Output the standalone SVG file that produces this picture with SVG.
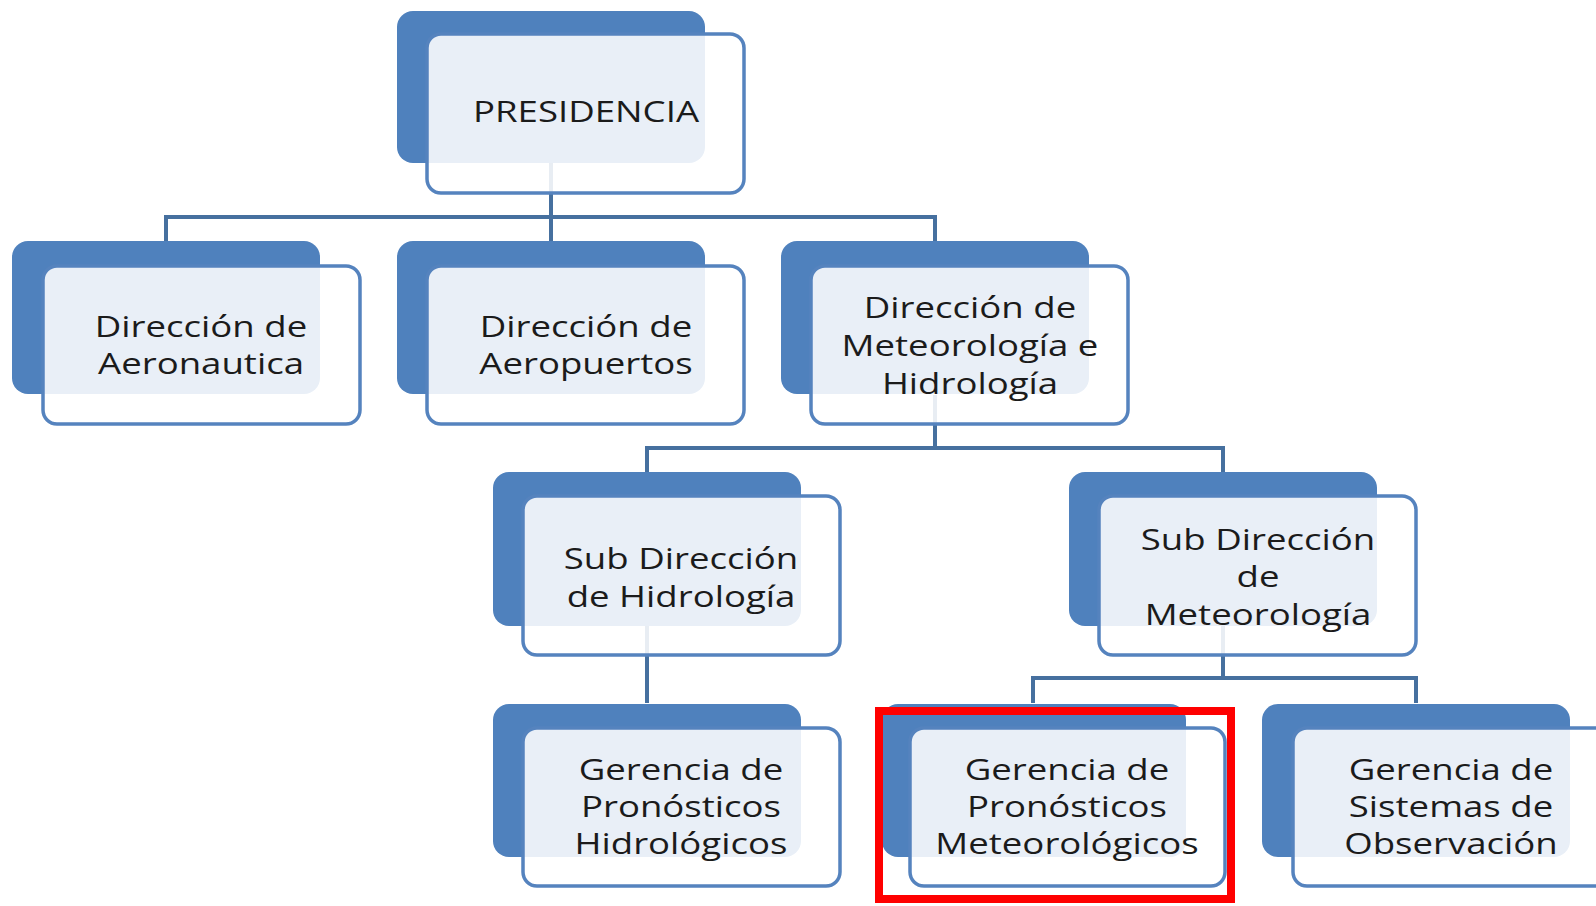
<svg xmlns="http://www.w3.org/2000/svg" width="1596" height="906" viewBox="0 0 1596 906">
<style>
.back{fill:#4F81BD;}
.front{fill:#FFFFFF;fill-opacity:0.875;stroke:#5583BE;stroke-width:3.5;}
.conn{fill:none;stroke:#46709F;stroke-width:4;}
.lbl{font-family:"Open Sans","Liberation Sans",sans-serif;font-size:30px;fill:#1b1b1b;text-anchor:middle;}
.hl{fill:none;stroke:#FF0000;stroke-width:8;}
</style>
<rect width="1596" height="906" fill="#FFFFFF"/>
<g id="connectors">
<path class="conn" d="M551 163 V217 M166 217 H935 M166 215 V241 M551 217 V241 M935 215 V241"/>
<path class="conn" d="M935 395 V448 M647 448 H1223 M647 446 V472 M1223 446 V472"/>
<path class="conn" d="M647 626 V703 M1223 626 V678 M1033 678 H1416 M1033 676 V703 M1416 676 V703"/>
</g>
<g id="presidencia">
<rect class="back" x="397" y="11" width="308" height="152" rx="16"/>
<rect class="front" x="427" y="34" width="317" height="159" rx="14"/>
<text class="lbl" transform="translate(586 0) scale(1.22 1)"><tspan x="0" y="122">PRESIDENCIA</tspan></text>
</g>
<g id="dir-aeronautica">
<rect class="back" x="12" y="241" width="308" height="153" rx="16"/>
<rect class="front" x="43" y="266" width="317" height="158" rx="14"/>
<text class="lbl" transform="translate(201 0) scale(1.22 1)"><tspan x="0" y="337">Dirección de</tspan><tspan x="0" y="374">Aeronautica</tspan></text>
</g>
<g id="dir-aeropuertos">
<rect class="back" x="397" y="241" width="308" height="153" rx="16"/>
<rect class="front" x="427" y="266" width="317" height="158" rx="14"/>
<text class="lbl" transform="translate(586 0) scale(1.22 1)"><tspan x="0" y="337">Dirección de</tspan><tspan x="0" y="374">Aeropuertos</tspan></text>
</g>
<g id="dir-meteorologia">
<rect class="back" x="781" y="241" width="308" height="153" rx="16"/>
<rect class="front" x="811" y="266" width="317" height="158" rx="14"/>
<text class="lbl" transform="translate(970 0) scale(1.22 1)"><tspan x="0" y="318">Dirección de</tspan><tspan x="0" y="356">Meteorología e</tspan><tspan x="0" y="394">Hidrología</tspan></text>
</g>
<g id="sub-hidrologia">
<rect class="back" x="493" y="472" width="308" height="154" rx="16"/>
<rect class="front" x="523" y="496" width="317" height="159" rx="14"/>
<text class="lbl" transform="translate(681 0) scale(1.22 1)"><tspan x="0" y="569">Sub Dirección</tspan><tspan x="0" y="607">de Hidrología</tspan></text>
</g>
<g id="sub-meteorologia">
<rect class="back" x="1069" y="472" width="308" height="154" rx="16"/>
<rect class="front" x="1099" y="496" width="317" height="159" rx="14"/>
<text class="lbl" transform="translate(1258 0) scale(1.22 1)"><tspan x="0" y="550">Sub Dirección</tspan><tspan x="0" y="587">de</tspan><tspan x="0" y="625">Meteorología</tspan></text>
</g>
<g id="ger-hidrologicos">
<rect class="back" x="493" y="704" width="308" height="153" rx="16"/>
<rect class="front" x="523" y="728" width="317" height="158" rx="14"/>
<text class="lbl" transform="translate(681 0) scale(1.22 1)"><tspan x="0" y="780">Gerencia de</tspan><tspan x="0" y="817">Pronósticos</tspan><tspan x="0" y="854">Hidrológicos</tspan></text>
</g>
<g id="ger-meteorologicos">
<rect class="back" x="882" y="704" width="304" height="153" rx="16"/>
<rect class="front" x="910" y="728" width="315" height="158" rx="14"/>
<text class="lbl" transform="translate(1067 0) scale(1.22 1)"><tspan x="0" y="780">Gerencia de</tspan><tspan x="0" y="817">Pronósticos</tspan><tspan x="0" y="854">Meteorológicos</tspan></text>
</g>
<g id="ger-sistemas">
<rect class="back" x="1262" y="704" width="308" height="153" rx="16"/>
<rect class="front" x="1293" y="728" width="317" height="158" rx="14"/>
<text class="lbl" transform="translate(1451 0) scale(1.22 1)"><tspan x="0" y="780">Gerencia de</tspan><tspan x="0" y="817">Sistemas de</tspan><tspan x="0" y="854">Observación</tspan></text>
</g>
<g id="highlight">
<rect class="hl" x="879" y="711" width="352" height="188"/>
</g>
</svg>
